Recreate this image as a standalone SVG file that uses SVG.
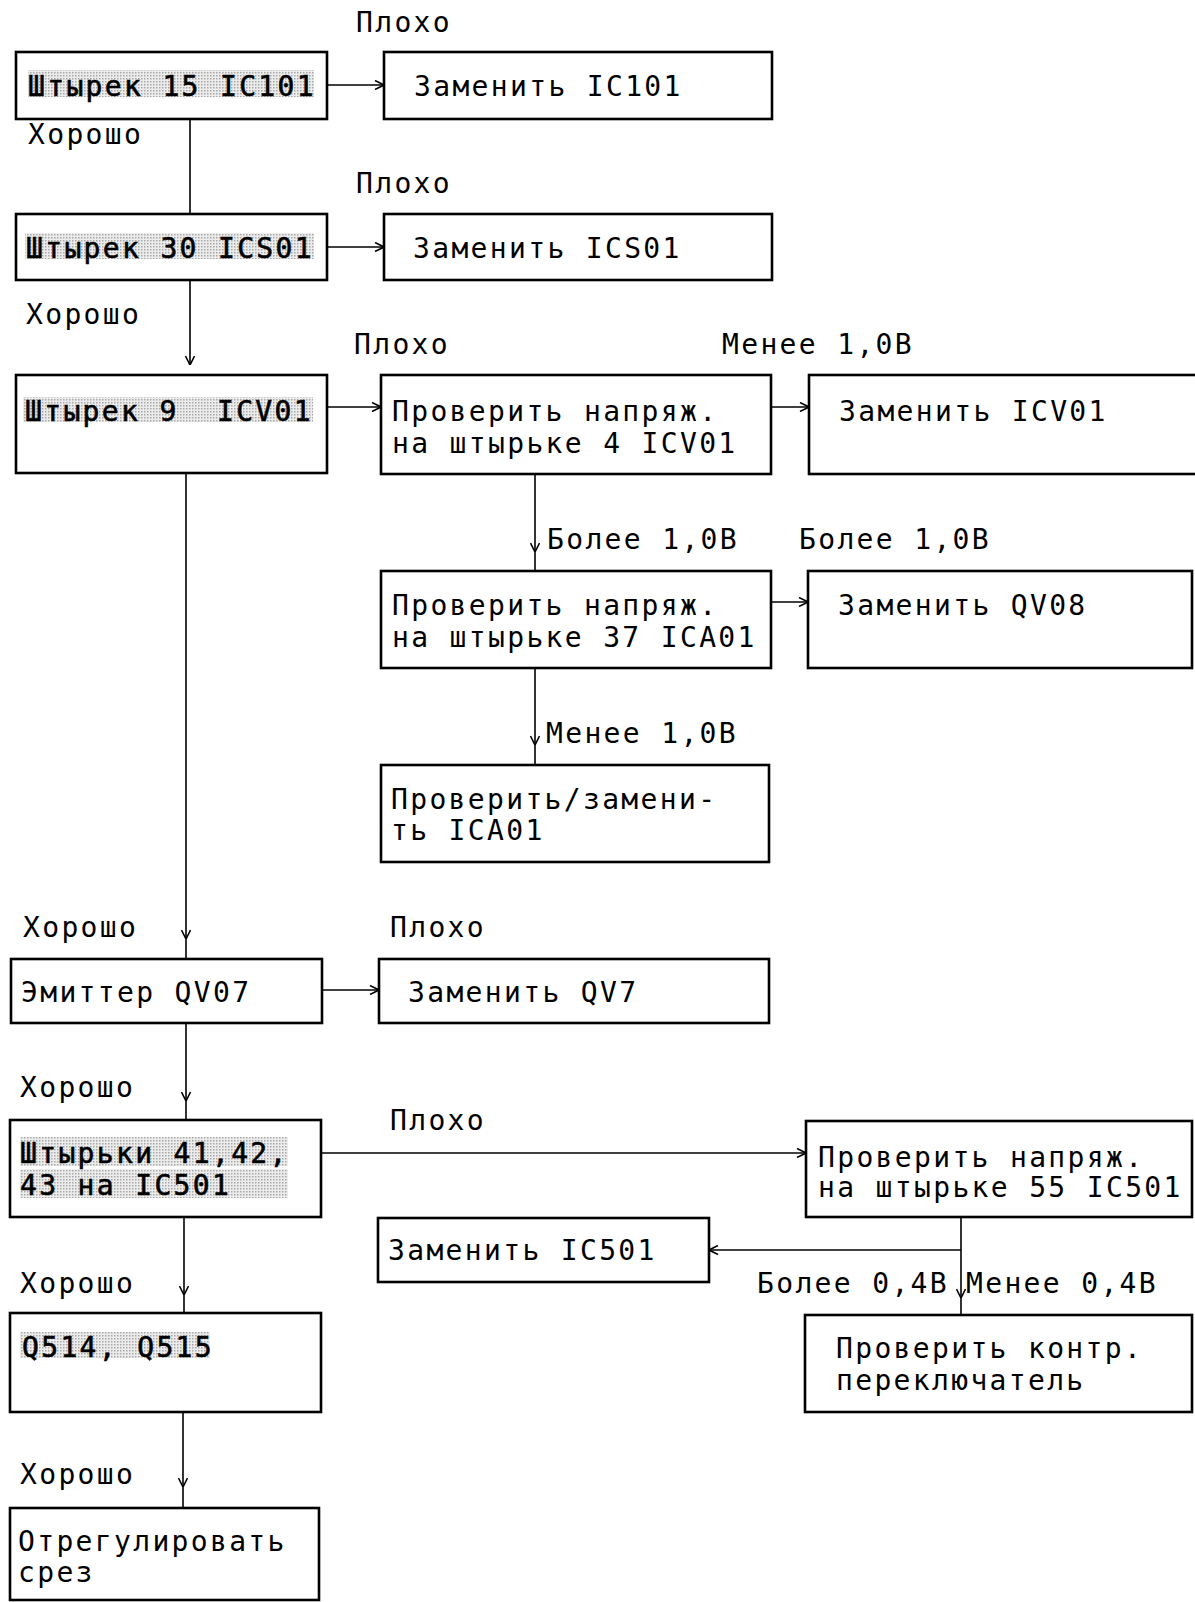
<svg xmlns="http://www.w3.org/2000/svg" width="1195" height="1602" viewBox="0 0 1195 1602">
<defs>
<pattern id="dots" width="3" height="3" patternUnits="userSpaceOnUse">
<rect width="3" height="3" fill="#ececec"/>
<rect width="1.5" height="1.5" fill="#a8a8a8"/>
</pattern>
<marker id="ah" viewBox="0 0 10 10" refX="10" refY="5" markerWidth="10" markerHeight="10" markerUnits="userSpaceOnUse" orient="auto">
<path d="M1,0.5 L10,5 L1,9.5" fill="none" stroke="#000" stroke-width="1.6"/>
</marker>
</defs>
<style>
.box{fill:none;stroke:#000;stroke-width:2.6}
.c path{fill:none;stroke:#000;stroke-width:1.6}
.m{marker-end:url(#ah)}
text{font-family:"DejaVu Sans Mono","Liberation Mono",monospace;font-size:28px;letter-spacing:2.34px;fill:#000}
.b{stroke:#000;stroke-width:0.6}
.sh{fill:url(#dots)}
</style>
<rect width="1195" height="1602" fill="#fff"/>

<g id="labels">
<text x="356" y="32">Плохо</text>
<text x="28" y="144">Хорошо</text>
<text x="356" y="193">Плохо</text>
<text x="26" y="324">Хорошо</text>
<text x="354" y="354">Плохо</text>
<text x="722" y="354">Менее 1,0В</text>
<text x="547" y="549">Более 1,0В</text>
<text x="799" y="549">Более 1,0В</text>
<text x="546" y="743">Менее 1,0В</text>
<text x="23" y="937">Хорошо</text>
<text x="390" y="937">Плохо</text>
<text x="20" y="1097">Хорошо</text>
<text x="390" y="1130">Плохо</text>
<text x="757" y="1293">Более 0,4В</text>
<text x="966" y="1293">Менее 0,4В</text>
<text x="20" y="1293">Хорошо</text>
<text x="20" y="1484">Хорошо</text>
</g>

<g id="n1">
<rect class="sh" x="28" y="70" width="286" height="27"/>
<rect class="box" x="16" y="52" width="311" height="67"/>
<text class="b" x="28" y="96">Штырек 15 IC101</text>
</g>
<g id="n1r">
<rect class="box" x="384" y="52" width="388" height="67"/>
<text x="414" y="96">Заменить IC101</text>
</g>
<g id="n2">
<rect class="sh" x="25" y="233" width="289" height="26"/>
<rect class="box" x="16" y="214" width="311" height="66"/>
<text class="b" x="26" y="258">Штырек 30 ICS01</text>
</g>
<g id="n2r">
<rect class="box" x="384" y="214" width="388" height="66"/>
<text x="413" y="258">Заменить ICS01</text>
</g>
<g id="n3">
<rect class="sh" x="23" y="397" width="290" height="25"/>
<rect class="box" x="16" y="375" width="311" height="98"/>
<text class="b" x="25" y="421" xml:space="preserve">Штырек 9  ICV01</text>
</g>
<g id="n3a">
<rect class="box" x="381" y="375" width="390" height="99"/>
<text x="392" y="421">Проверить напряж.</text>
<text x="392" y="453">на штырьке 4 ICV01</text>
</g>
<g id="n3b">
<rect class="box" x="809" y="375" width="390" height="99"/>
<text x="839" y="421">Заменить ICV01</text>
</g>
<g id="n4">
<rect class="box" x="381" y="571" width="390" height="97"/>
<text x="392" y="615">Проверить напряж.</text>
<text x="392" y="647">на штырьке 37 ICA01</text>
</g>
<g id="n4b">
<rect class="box" x="808" y="571" width="384" height="97"/>
<text x="838" y="615">Заменить QV08</text>
</g>
<g id="n5">
<rect class="box" x="381" y="765" width="388" height="97"/>
<text x="391" y="809">Проверить/замени-</text>
<text x="391" y="840">ть ICA01</text>
</g>
<g id="n6">
<rect class="box" x="11" y="959" width="311" height="64"/>
<text x="21" y="1002">Эмиттер QV07</text>
</g>
<g id="n6r">
<rect class="box" x="379" y="959" width="390" height="64"/>
<text x="408" y="1002">Заменить QV7</text>
</g>
<g id="n7">
<rect class="sh" x="20" y="1137" width="268" height="29"/>
<rect class="sh" x="20" y="1169" width="268" height="29"/>
<rect class="box" x="10" y="1120" width="311" height="97"/>
<text class="b" x="20" y="1163">Штырьки 41,42,</text>
<text class="b" x="20" y="1195">43 на IC501</text>
</g>
<g id="n7r">
<rect class="box" x="806" y="1121" width="386" height="96"/>
<text x="818" y="1167">Проверить напряж.</text>
<text x="818" y="1197">на штырьке 55 IC501</text>
</g>
<g id="n8">
<rect class="box" x="378" y="1218" width="331" height="64"/>
<text x="388" y="1260">Заменить IC501</text>
</g>
<g id="n9">
<rect class="box" x="805" y="1315" width="387" height="97"/>
<text x="836" y="1358">Проверить контр.</text>
<text x="836" y="1390">переключатель</text>
</g>
<g id="n10">
<rect class="sh" x="20" y="1332" width="190" height="26"/>
<rect class="box" x="10" y="1313" width="311" height="99"/>
<text class="b" x="22" y="1357">Q514, Q515</text>
</g>
<g id="n11">
<rect class="box" x="10" y="1508" width="309" height="92"/>
<text x="18" y="1551">Отрегулировать</text>
<text x="18" y="1582">срез</text>
</g>

<g id="connectors" class="c">
<path class="m" d="M327,85 H384"/>
<path d="M190,119 V214"/>
<path class="m" d="M327,247 H384"/>
<path class="m" d="M190,280 V365"/>
<path class="m" d="M327,407 H381"/>
<path class="m" d="M771,407 H809"/>
<path class="m" d="M535,474 V552"/>
<path d="M535,552 V571"/>
<path class="m" d="M771,602 H808"/>
<path class="m" d="M535,668 V745"/>
<path d="M535,745 V765"/>
<path class="m" d="M186,473 V939"/>
<path d="M186,939 V959"/>
<path class="m" d="M322,990 H379"/>
<path class="m" d="M186,1023 V1101"/>
<path d="M186,1101 V1120"/>
<path class="m" d="M321,1153 H806"/>
<path class="m" d="M184,1217 V1295"/>
<path d="M184,1295 V1313"/>
<path class="m" d="M183,1412 V1487"/>
<path d="M183,1487 V1508"/>
<path class="m" d="M961,1217 V1298"/>
<path d="M961,1298 V1315"/>
<path class="m" d="M961,1250 H709"/>
</g>
</svg>
